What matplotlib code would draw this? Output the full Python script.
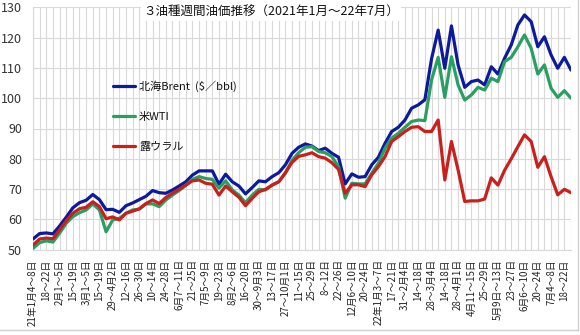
import matplotlib
matplotlib.use("Agg")
import matplotlib.pyplot as plt
from matplotlib.lines import Line2D
import numpy as np

plt.rcParams['font.family'] = ['Noto Sans CJK JP', 'DejaVu Sans']

# Tick labels (one for every second week, starting 2021-01-04)
week_labels = [
    "21年1月4～8日", "18～22日", "2月1～5日", "15～19日", "3月1～5日", "15～19日",
    "29～4月2日", "12～16日", "26～30日", "10～14日", "24～28日", "6月7～11日",
    "21～25日", "7月5～9日", "19～23日", "8月2～6日", "16～20日", "30～9月3日",
    "13～17日", "27～10月1日", "11～15日", "25～29日", "8～12日", "22～26日",
    "12月6～10日", "20～24日", "22年1月3～7日", "17～21日", "31～2月4日", "14～18日",
    "28～3月4日", "14～18日", "28～4月1日", "4月11～15日", "25～29日", "5月9日～13日",
    "23～27日", "6月6～10日", "20～24日", "7月4～8日", "18～22日",
]

# Weekly average prices, $/bbl
brent = [
    53.5, 55.3, 55.5, 55.2, 57.8, 60.7, 63.8, 65.5, 66.3, 68.2,
    66.5, 63.2, 63.3, 62.3, 64.5, 65.4, 66.5, 67.6, 69.5, 68.8,
    68.6, 69.7, 71.0, 72.4, 74.6, 76.0, 76.0, 76.0, 71.6, 74.9,
    72.4, 71.0, 68.4, 70.5, 72.7, 72.4, 74.1, 75.4, 78.0, 81.8,
    83.8, 84.9, 84.2, 82.7, 83.5, 81.8, 80.5, 71.7, 75.0, 73.9,
    74.1, 78.0, 80.5, 85.1, 89.0, 90.4, 92.8, 96.7, 97.8, 99.5,
    113.0, 122.5, 109.9, 123.9, 111.0, 103.6, 105.5, 106.0, 104.4, 110.4,
    108.0, 113.2, 117.6, 124.2, 127.5, 125.3, 117.0, 120.3, 114.3, 109.9,
    113.5, 109.3,
]
wti = [
    50.4, 52.3, 52.9, 52.5, 55.4, 58.7, 60.9, 62.2, 63.1, 65.1,
    63.1, 55.9, 59.8, 60.3, 62.0, 63.1, 63.3, 65.1, 65.1, 64.2,
    66.4, 68.0, 69.5, 71.2, 73.2, 74.1, 73.5, 73.2, 70.3, 72.7,
    69.7, 68.0, 65.5, 68.0, 69.9, 69.7, 71.3, 72.4, 75.2, 79.5,
    82.0, 83.8, 84.0, 82.4, 82.0, 80.7, 77.4, 67.0, 71.9, 71.7,
    71.7, 75.2, 78.5, 83.5, 86.8, 88.4, 90.4, 92.3, 92.8, 92.6,
    106.0, 113.5, 100.3, 113.7, 104.4, 99.4, 101.1, 103.6, 102.7, 106.6,
    105.5, 112.1, 113.5, 117.0, 120.9, 116.5, 108.0, 111.0, 103.3, 100.3,
    102.5, 100.0,
]
urals = [
    51.5, 53.5, 53.8, 53.6, 56.5, 59.5, 62.0, 63.5, 64.0, 65.8,
    64.2, 60.2, 60.8, 59.8, 62.0, 62.7, 63.5, 65.2, 66.4, 65.2,
    67.2, 68.6, 69.9, 71.3, 72.7, 73.0, 71.9, 71.6, 68.0, 71.0,
    69.1, 67.3, 64.5, 66.9, 69.1, 69.9, 71.3, 72.4, 75.4, 78.8,
    80.8, 81.3, 82.0, 80.7, 80.2, 78.7, 76.5, 68.6, 71.4, 71.4,
    70.8, 74.7, 77.4, 80.7, 85.7, 87.3, 89.0, 90.4, 90.6, 89.0,
    89.0, 92.8, 73.0, 85.7, 76.3, 65.9, 66.1, 66.1, 66.7, 73.7,
    71.3, 76.2, 80.0, 84.0, 87.9, 85.7, 77.2, 80.7, 74.1, 68.1,
    69.9, 68.8,
]

series_names = ["北海Brent  ($／bbl)", "米WTI", "露ウラル"]
series_colors = ["#0d1a9c", "#2a9f62", "#c8201c"]
title = "３油種週間油価推移（2021年1月～22年7月）"

fig = plt.figure(figsize=(5.8, 3.35), dpi=100)
ax = fig.add_axes([33 / 580, 1 - 249.6 / 335, (571 - 33) / 580, (249.6 - 7.4) / 335])

x = np.arange(len(brent))
for vals, name, col, z in zip([brent, wti, urals], series_names, series_colors, [3, 4, 5]):
    ax.plot(x, vals, color=col, lw=2.3, label=name, zorder=z,
            solid_joinstyle="round", solid_capstyle="round")

ax.set_xlim(0, len(brent) - 1)
ax.set_ylim(50, 130)
ax.set_yticks(np.arange(50, 131, 10))
ax.set_xticks(x[::2])
ax.set_xticklabels(week_labels, rotation=90, ha="center", va="top", fontsize=7)
ax.set_xticks(x, minor=True)

grid_col = "#d9d9d9"
ax.grid(True, which="both", axis="x", color=grid_col, lw=0.8, zorder=0)
ax.grid(True, which="major", axis="y", color=grid_col, lw=0.8, zorder=0)
ax.set_axisbelow(True)

ax.tick_params(axis="y", length=0, pad=8, labelsize=9, colors="#333333")
ax.tick_params(axis="x", which="both", length=0, pad=7, colors="#222222")
for side in ["top", "right"]:
    ax.spines[side].set_visible(False)
for side in ["left", "bottom"]:
    ax.spines[side].set_color(grid_col)
    ax.spines[side].set_linewidth(0.8)

leg = ax.legend(loc="upper left", bbox_to_anchor=(0.1487, 0.70), frameon=False,
                fontsize=8, handlelength=2.0, handletextpad=0.35, labelspacing=1.8,
                borderpad=0, borderaxespad=0)
for t in leg.get_texts():
    t.set_color("#111111")

fig.text(0.467, 1 - 12.5 / 335, title, ha="center", va="center", fontsize=9,
         color="#111111",
         bbox=dict(facecolor="white", edgecolor="none", pad=1.5))

# light frame at the bottom and right of the chart area
fig.add_artist(Line2D([0, 577.5 / 580], [1 - 330 / 335] * 2, color="#d0d0d0", lw=1))
fig.add_artist(Line2D([577.5 / 580] * 2, [1 - 330 / 335, 1], color="#d0d0d0", lw=1))

fig.savefig("out.png", dpi=100)
